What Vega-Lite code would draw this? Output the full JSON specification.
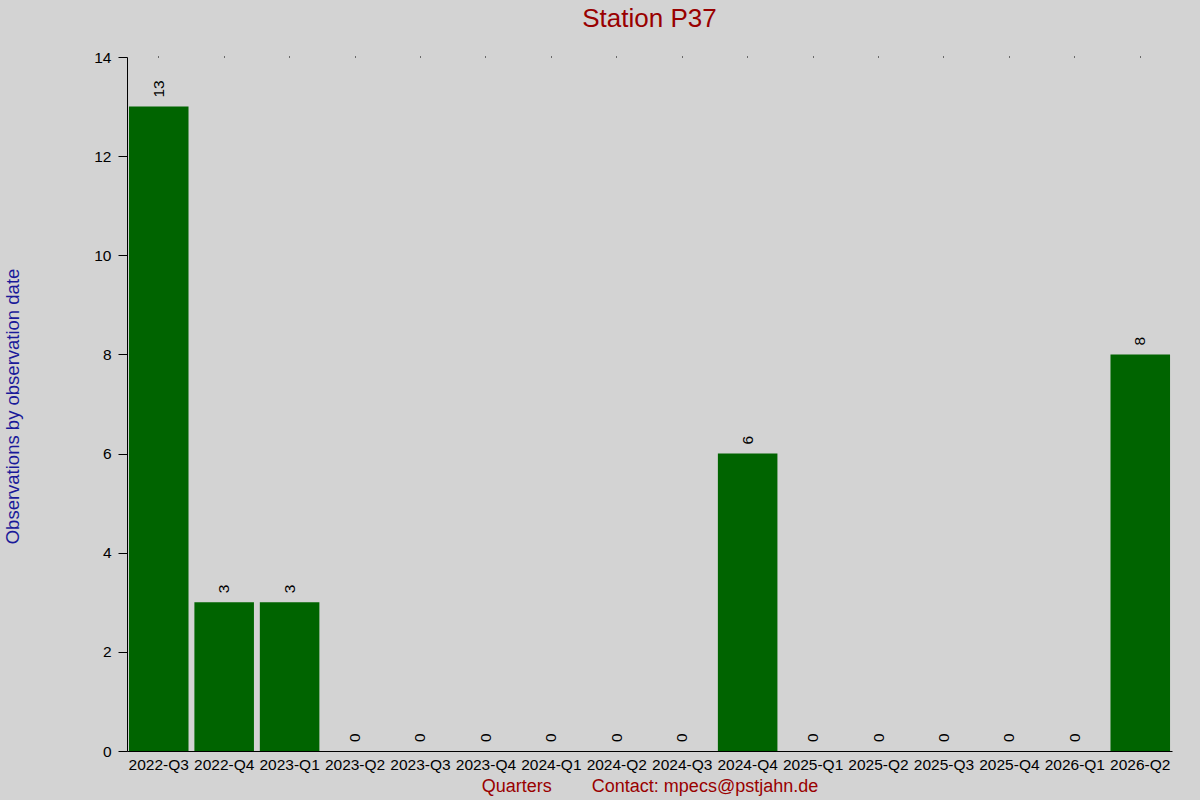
{
  "$schema": "https://vega.github.io/schema/vega-lite/v6.json",
  "width": 1045,
  "height": 694,
  "autosize": {"type": "none"},
  "padding": {"left": 127, "top": 57, "right": 28, "bottom": 49},
  "background": "#d3d3d3",
  "config": {
    "font": "Liberation Sans",
    "view": {"stroke": null},
    "axis": {"grid": false, "domainColor": "black", "tickColor": "black", "labelColor": "black", "labelFont": "Liberation Sans", "titleFont": "Liberation Sans", "titleFontWeight": "normal"}
  },
  "title": {
    "text": "Station P37",
    "color": "#990000",
    "fontSize": 26,
    "fontWeight": "normal",
    "anchor": "middle",
    "offset": 18
  },
  "data": {
    "values": [
      {"quarter": "2022-Q3", "count": 13},
      {"quarter": "2022-Q4", "count": 3},
      {"quarter": "2023-Q1", "count": 3},
      {"quarter": "2023-Q2", "count": 0},
      {"quarter": "2023-Q3", "count": 0},
      {"quarter": "2023-Q4", "count": 0},
      {"quarter": "2024-Q1", "count": 0},
      {"quarter": "2024-Q2", "count": 0},
      {"quarter": "2024-Q3", "count": 0},
      {"quarter": "2024-Q4", "count": 6},
      {"quarter": "2025-Q1", "count": 0},
      {"quarter": "2025-Q2", "count": 0},
      {"quarter": "2025-Q3", "count": 0},
      {"quarter": "2025-Q4", "count": 0},
      {"quarter": "2026-Q1", "count": 0},
      {"quarter": "2026-Q2", "count": 8}
    ]
  },
  "encoding": {
    "x": {
      "field": "quarter",
      "type": "nominal",
      "sort": null,
      "scale": {"paddingInner": 0.09, "paddingOuter": 0.03},
      "axis": {
        "title": "Quarters\u00a0\u00a0\u00a0\u00a0\u00a0\u00a0\u00a0\u00a0Contact: mpecs@pstjahn.de",
        "titleColor": "#990000",
        "titleFontSize": 18,
        "titlePadding": 5,
        "labelAngle": 0,
        "labelFontSize": 15.5,
        "labelPadding": 6,
        "ticks": false
      }
    },
    "y": {
      "field": "count",
      "type": "quantitative",
      "scale": {"domain": [0, 14], "nice": false},
      "axis": {
        "title": "Observations by observation date",
        "titleColor": "#1a1a99",
        "titleFontSize": 18.5,
        "titleAngle": -90,
        "titleX": -115,
        "titleY": 349,
        "titleBaseline": "middle",
        "titleAlign": "center",
        "values": [0, 2, 4, 6, 8, 10, 12, 14],
        "tickSize": 9,
        "labelFontSize": 15.5,
        "labelPadding": 7
      }
    }
  },
  "layer": [
    {
      "mark": {"type": "bar", "color": "#006400"}
    },
    {
      "mark": {"type": "text", "angle": -90, "align": "left", "baseline": "middle", "dx": 9, "fontSize": 15.5, "color": "black"},
      "encoding": {
        "text": {"field": "count", "type": "quantitative"},
        "x": {
          "field": "quarter",
          "type": "nominal",
          "sort": null,
          "axis": {"orient": "top", "labels": false, "domain": false, "title": null, "ticks": true, "tickSize": 1, "tickColor": "black"}
        }
      }
    }
  ],
  "resolve": {"axis": {"x": "independent"}}
}
